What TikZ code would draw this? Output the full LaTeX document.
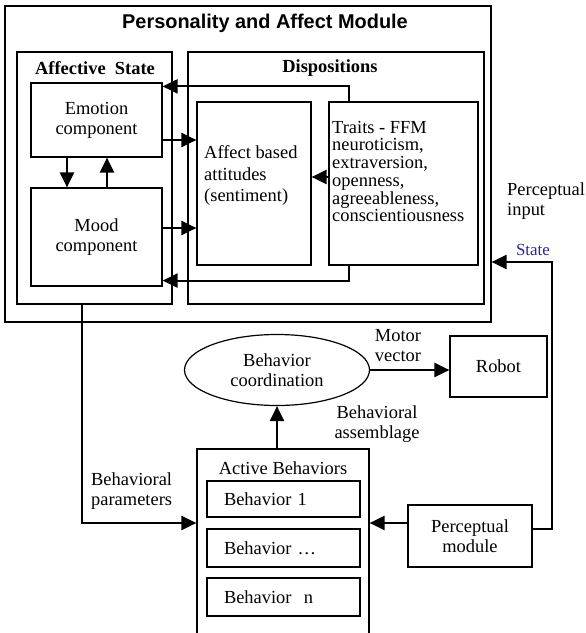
\documentclass[tikz,border=0pt]{standalone}
\usepackage{fontspec}
\setmainfont{Liberation Serif}
\newfontfamily\titlefont{Liberation Sans}
\usetikzlibrary{arrows.meta,shapes.geometric,calc}
\definecolor{stateblue}{RGB}{40,40,150}

\begin{document}
\begin{tikzpicture}[x=1bp,y=-1bp,
  every node/.style={font=\fontsize{18.5}{20}\selectfont},
  box/.style={draw, line width=1.2bp, inner sep=0pt},
  behbox/.style={box, align=left, text width=119bp, inner xsep=17bp},
  heading/.style={font=\fontsize{18.5}{20}\selectfont\bfseries},
  titletext/.style={font=\fontsize{20}{22}\selectfont\titlefont\bfseries},
  conn/.style={line width=2.2bp, -{Triangle[length=15bp,width=14bp]}}]

\useasboundingbox (0,0) rectangle (586,633);

% Personality and affect module
\node[box, minimum width=486bp, minimum height=316bp] (outer) at (248,164) {};
\node[titletext] (title) at (265,23) {Personality and Affect Module};

\node[box, minimum width=155bp, minimum height=252bp] (affstate) at (94.5,178) {};
\node[heading] (affstatetitle) at (95,68) {Affective\ \ State};
\node[box, minimum width=296bp, minimum height=252bp] (disp) at (336,178) {};
\node[heading] (disptitle) at (330,68) {Dispositions};

\node[box, align=center, minimum width=131bp, minimum height=74bp] (emotion) at (96.5,120) {Emotion\\component};
\node[box, align=center, minimum width=131bp, minimum height=98bp] (mood) at (96.5,237) {Mood\\component};

\node[box, minimum width=114bp, minimum height=163bp] (affect) at (254,183.5) {};
\node[anchor=west, align=left, inner sep=0pt, font=\fontsize{18.5}{21.3}\selectfont] (affecttext) at (204,175.5) {Affect based\\attitudes\\(sentiment)};

\node[box, minimum width=149bp, minimum height=163bp] (traits) at (403.5,183.5) {};
\node[anchor=west, align=left, inner sep=0pt, font=\fontsize{18.5}{17.8}\selectfont] (traitstext) at (332,171.5) {Traits - FFM\\neuroticism,\\extraversion,\\openness,\\agreeableness,\\conscientiousness};

% Behaviour layer
\node[draw, ellipse, line width=1.2bp, minimum width=185bp, minimum height=71bp, inner sep=0pt, align=center] (coord) at (277,370) {Behavior\\coordination};
\node[box, minimum width=97bp, minimum height=61bp] (robot) at (498.5,366.5) {Robot};
\node[box, minimum width=172bp, minimum height=196bp] (active) at (283,547) {};
\node (activetitle) at (283,468) {Active Behaviors};
\node[behbox, minimum height=36bp] (beh1) at (283.5,499) {Behavior 1};
\node[behbox, minimum height=38bp] (beh2) at (283.5,548) {Behavior …};
\node[behbox, minimum height=38bp] (beh3) at (283.5,597) {Behavior\ \ n};
\node[box, align=center, minimum width=124bp, minimum height=62bp] (percep) at (470,536) {Perceptual\\module};

% Labels
\node[anchor=west, align=left, inner sep=0pt] (percin) at (507,201) {Perceptual\\input};
\node[text=stateblue, font=\fontsize{17}{18}\selectfont] (statelbl) at (533,250) {State};
\node[anchor=west, align=left, inner sep=0pt] (bparam) at (91,491) {Behavioral\\parameters};
\node[align=center] (motor) at (398,346) {Motor\\vector};
\node[align=center] (assem) at (377,424) {Behavioral\\assemblage};

\coordinate (turn) at (552,262);

% Connectors
\draw[conn] ([xshift=-54.5bp]traits.north) |- ([yshift=-4bp]emotion.north east);
\draw[conn] ([xshift=-54.5bp]traits.south) |- ([yshift=6bp]mood.south east);
\draw[conn] ([yshift=-20bp]emotion.east) -- ([yshift=-20bp]emotion.east -| affect.west);
\draw[conn] ([yshift=9bp]mood.east) -- ([yshift=9bp]mood.east -| affect.west);
\draw[conn] ([yshift=6.5bp]traits.west) -- ([yshift=6.5bp]traits.west -| affect.east);
\draw[conn] ([xshift=-29.5bp]emotion.south) -- ([xshift=-29.5bp]mood.north);
\draw[conn] ([xshift=10.5bp]mood.north) -- ([xshift=10.5bp]emotion.south);
\draw[conn] ([xshift=-12.5bp]affstate.south) |- ([yshift=24bp]active.west);
\draw[conn] (coord.south |- active.north) -- (coord.south);
\draw[conn] (coord.east) -- (coord.east -| robot.west);
\draw[conn] ([yshift=13bp]percep.west) -- ([yshift=13bp]percep.west -| active.east);
\draw[conn] ([yshift=7bp]percep.east) -| (turn) -- (turn -| outer.east);
\end{tikzpicture}
\end{document}
